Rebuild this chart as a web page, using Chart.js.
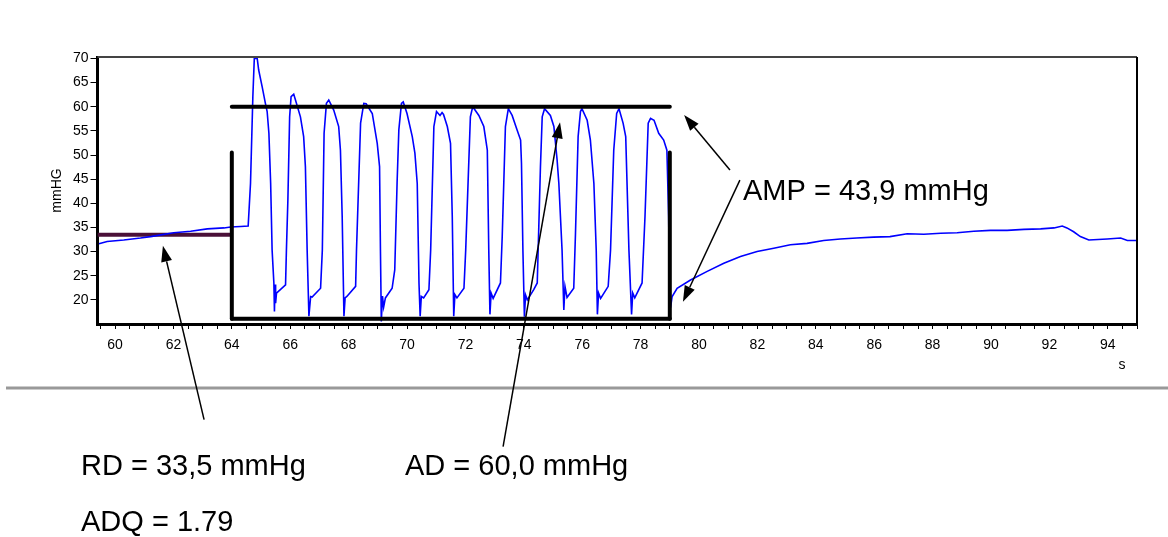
<!DOCTYPE html>
<html>
<head>
<meta charset="utf-8">
<script src="https://cdn.jsdelivr.net/npm/chart.js@4/dist/chart.umd.min.js"></script>
<style>
  html, body { margin: 0; padding: 0; background: #fff; }
  #wrap { width: 1168px; height: 537px; }
</style>
</head>
<body>
<div id="wrap"><canvas id="chart" width="1168" height="537"></canvas></div>
<script>
// pressure trace (s / mmHg)
const traceTime = [
  59.45, 59.73, 60.3, 60.87, 61.22, 62.01, 62.59, 63.16, 63.73, 63.96, 64.3, 64.56,
  64.64, 64.72, 64.77, 64.87, 64.92, 65.04, 65.15, 65.21, 65.27, 65.33, 65.38, 65.44, 65.46, 65.48, 65.5, 65.53, 65.84,
  65.87, 65.92, 65.98, 66.03, 66.12, 66.18, 66.35, 66.46, 66.52, 66.58, 66.64, 66.7, 66.75, 67.04,
  67.1, 67.16, 67.24, 67.32, 67.49, 67.66, 67.72, 67.78, 67.84, 67.88, 67.94, 68.24,
  68.27, 68.41, 68.52, 68.6, 68.81, 68.98, 69.06, 69.09, 69.12, 69.16, 69.2, 69.26, 69.49,
  69.58, 69.66, 69.72, 69.81, 69.87, 70.0, 70.18, 70.27, 70.35, 70.41, 70.45, 70.49, 70.57, 70.75,
  70.81, 70.92, 71.01, 71.13, 71.2, 71.25, 71.38, 71.49, 71.55, 71.6, 71.64, 71.71, 71.95,
  72.01, 72.17, 72.25, 72.46, 72.63, 72.75, 72.8, 72.84, 72.88, 72.95, 73.2,
  73.26, 73.37, 73.47, 73.6, 73.77, 73.89, 73.92, 73.97, 74.02, 74.06, 74.12, 74.34, 74.46,
  74.57, 74.63, 74.71, 74.91, 75.03, 75.14, 75.2, 75.31, 75.37, 75.41, 75.48, 75.71,
  75.77, 75.86, 75.94, 75.99, 76.17, 76.28, 76.4, 76.48, 76.52, 76.56, 76.63, 76.89,
  76.97, 77.08, 77.18, 77.26, 77.4, 77.49, 77.6, 77.69, 77.73, 77.8, 78.05,
  78.15, 78.26, 78.34, 78.46, 78.62, 78.79, 78.9, 78.96, 79.0,
  79.03, 79.08, 79.25, 79.71, 80.28, 80.85, 81.42, 81.99, 82.56, 83.13, 83.7, 84.27, 84.84, 85.4, 85.97,
  86.54, 87.13, 87.7, 88.28, 88.84, 89.41, 89.98, 90.55, 91.13, 91.7, 92.16, 92.44, 92.6, 92.83, 93.06,
  93.35, 93.98, 94.44, 94.67, 95.0
];
const tracePressure = [
  31.6, 32.1, 32.4, 32.8, 33.1, 33.9, 34.2, 34.7, 34.9, 35.1, 35.2, 35.3,
  44.1, 62, 70, 70, 67.6, 64.1, 60.7, 59, 54.5, 44.1, 30.3, 23.5, 17.6, 23.2, 19.3, 21.4, 23.1,
  30.3, 40.7, 57.9, 62.1, 62.6, 61.4, 57.9, 53.8, 47.6, 30.3, 16.6, 20.7, 20.6, 22.4,
  30.3, 54.5, 60.7, 61.4, 59.3, 55.9, 51, 37.2, 16.6, 20.4, 20.7, 22.8,
  30.3, 56.6, 60.7, 60.6, 58.6, 52.4, 47.6, 30.3, 15.5, 20.8, 18.5, 20.4, 22.4,
  26.2, 44.2, 55.2, 60.7, 61, 58.6, 53.8, 50.4, 44.1, 23.5, 16.6, 20.7, 20.4, 22.1,
  30.3, 55.9, 59, 58.2, 58.8, 58.4, 55.9, 52.4, 37.2, 16.6, 21.1, 20.4, 22.4,
  30.3, 57.9, 60, 58.2, 55.9, 51, 30.3, 17, 21.4, 20.3, 23.5,
  33, 55.9, 59.6, 58.2, 55.2, 53.1, 48.3, 30, 16.5, 21, 20, 22.1, 23.5,
  47.6, 57.9, 59.6, 58.2, 55.9, 49, 44.1, 30.3, 17.9, 22.8, 20.5, 22.4,
  33.8, 53.8, 59, 59.6, 57.2, 53.1, 44.1, 30.3, 17, 21.4, 20.3, 22.8,
  30.3, 51, 58.6, 59.6, 56.6, 53.8, 30.3, 17, 21.4, 20.4, 23.5,
  37.2, 56.6, 57.6, 57.2, 54.5, 53.1, 51, 37.2, 17.9,
  18.6, 20.7, 22.4, 24.1, 25.9, 27.6, 29, 30, 30.7, 31.4, 31.7, 32.3, 32.6, 32.8, 33,
  33.1, 33.7, 33.6, 33.8, 33.9, 34.2, 34.4, 34.4, 34.6, 34.7, 34.9, 35.3, 34.9, 34.1, 33.1,
  32.4, 32.6, 32.8, 32.3, 32.3
];

// evaluation marks
const restLevel = 33.5;      // RD
const activeLevel = 60.0;    // AD
const floorLevel = 16.1;
const markerTimes = [64, 79];
const markerTop = 50.5;
const xRange = [59.4, 95];
const yRange = [15, 70.3];

// annotation arrows in data units [time, mmHg]
const arrowTails = [[63.05, -4.8], [73.29, -10.4], [81.06, 46.9], [81.4, 44.8]];
const arrowTips = [[61.64, 31.2], [75.24, 56.8], [79.49, 58.3], [79.45, 19.6]];

const notes = [
  { text: 'AMP = 43,9 mmHg', x: 743, y: 200 },
  { text: 'RD = 33,5 mmHg', x: 81, y: 475 },
  { text: 'AD = 60,0 mmHg', x: 405, y: 475 },
  { text: 'ADQ = 1.79', x: 81, y: 531 }
];

const FONT = '"Liberation Sans", Arial, sans-serif';

const tracePoints = traceTime.map((t, i) => ({ x: t, y: tracePressure[i] }));

function seg(x1, y1, x2, y2) {
  return [{ x: x1, y: y1 }, { x: x2, y: y2 }];
}

function markLine(data, color) {
  return {
    data: data,
    borderColor: color,
    borderWidth: 4,
    borderCapStyle: 'round',
    pointRadius: 0,
    showLine: true
  };
}

function drawArrow(ctx, x1, y1, x2, y2) {
  const ang = Math.atan2(y2 - y1, x2 - x1);
  const len = 16, half = 5.5;
  const bx = x2 - len * Math.cos(ang), by = y2 - len * Math.sin(ang);
  ctx.beginPath();
  ctx.moveTo(x1, y1);
  ctx.lineTo(bx, by);
  ctx.stroke();
  ctx.beginPath();
  ctx.moveTo(x2, y2);
  ctx.lineTo(bx + half * Math.sin(ang), by - half * Math.cos(ang));
  ctx.lineTo(bx - half * Math.sin(ang), by + half * Math.cos(ang));
  ctx.closePath();
  ctx.fill();
}

const overlay = {
  id: 'overlay',
  afterDraw(chart) {
    const { ctx, chartArea: a } = chart;
    const xs = chart.scales.x, ys = chart.scales.y;
    ctx.save();

    // frame: top and right
    ctx.lineWidth = 2;
    ctx.strokeStyle = '#444';
    ctx.beginPath();
    ctx.moveTo(a.left, a.top);
    ctx.lineTo(a.right, a.top);
    ctx.stroke();
    ctx.strokeStyle = '#000';
    ctx.beginPath();
    ctx.moveTo(a.right, a.top);
    ctx.lineTo(a.right, a.bottom + 1);
    ctx.stroke();

    // separator under the plot
    ctx.strokeStyle = '#999';
    ctx.lineWidth = 3;
    ctx.beginPath();
    ctx.moveTo(6, 388);
    ctx.lineTo(1168, 388);
    ctx.stroke();

    // x unit
    ctx.fillStyle = '#000';
    ctx.font = '14px ' + FONT;
    ctx.textAlign = 'center';
    ctx.textBaseline = 'middle';
    ctx.fillText('s', 1122, 365);

    // arrows
    ctx.strokeStyle = '#000';
    ctx.lineWidth = 1.5;
    arrowTails.forEach((t, i) => {
      const tip = arrowTips[i];
      drawArrow(ctx,
        xs.getPixelForValue(t[0]), ys.getPixelForValue(t[1]),
        xs.getPixelForValue(tip[0]), ys.getPixelForValue(tip[1]));
    });

    // result labels
    ctx.font = '29px ' + FONT;
    ctx.textAlign = 'left';
    ctx.textBaseline = 'alphabetic';
    notes.forEach(n => ctx.fillText(n.text, n.x, n.y));

    ctx.restore();
  }
};

const tickFont = { family: FONT, size: 14 };

new Chart(document.getElementById('chart'), {
  type: 'scatter',
  data: {
    datasets: [
      markLine(seg(markerTimes[0], activeLevel, markerTimes[1], activeLevel), '#000'),
      markLine(seg(markerTimes[0], floorLevel, markerTimes[1], floorLevel), '#000'),
      markLine(seg(markerTimes[0], markerTop, markerTimes[0], floorLevel), '#000'),
      markLine(seg(markerTimes[1], markerTop, markerTimes[1], floorLevel), '#000'),
      {
        data: tracePoints,
        borderColor: '#0000ff',
        borderWidth: 1.6,
        pointRadius: 0,
        showLine: true,
        tension: 0
      },
      Object.assign(markLine(seg(xRange[0], restLevel, markerTimes[0], restLevel), '#4a1038'), { borderCapStyle: 'butt' })
    ]
  },
  options: {
    responsive: false,
    animation: false,
    layout: { padding: { left: 45, top: 57, right: 31, bottom: 173 } },
    plugins: {
      legend: { display: false },
      tooltip: { enabled: false }
    },
    scales: {
      x: {
        type: 'linear',
        min: xRange[0],
        max: xRange[1],
        afterFit(s) { s.height = 40; },
        border: { color: '#000', width: 3 },
        grid: { drawOnChartArea: false, tickLength: 5, tickColor: '#000', tickWidth: 1 },
        ticks: {
          stepSize: 0.5,
          autoSkip: false,
          includeBounds: false,
          maxRotation: 0,
          padding: 8,
          color: '#000',
          font: tickFont,
          callback: v => Math.abs(v / 2 - Math.round(v / 2)) < 1e-6 ? String(v) : ''
        }
      },
      y: {
        min: yRange[0],
        max: yRange[1],
        afterFit(s) { s.width = 52.5; },
        border: { color: '#000', width: 3 },
        grid: {
          drawOnChartArea: false,
          tickLength: 7,
          tickWidth: 1,
          tickColor: c => (c.tick && c.tick.value < 20) ? 'rgba(0,0,0,0)' : '#000'
        },
        ticks: {
          stepSize: 5,
          includeBounds: false,
          padding: 2,
          color: '#000',
          font: tickFont,
          callback: v => v >= 20 ? String(v) : ''
        },
        title: { display: true, text: 'mmHG', color: '#000', font: tickFont, padding: 4 }
      }
    }
  },
  plugins: [overlay]
});
</script>
</body>
</html>
